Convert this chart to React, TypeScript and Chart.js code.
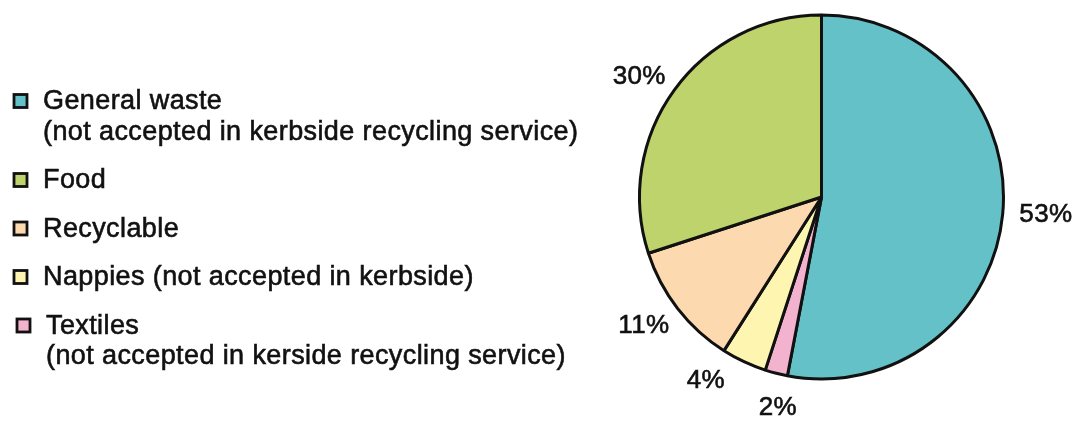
import React, { useEffect, useRef } from "react";
import { Chart, registerables } from "chart.js";

Chart.register(...registerables);

// Data (clockwise from 12 o'clock)
const categories = ["General waste", "Textiles", "Nappies", "Recyclable", "Food"];
const shares = [53, 2, 4, 11, 30];
const sliceColors = ["#63C1C7", "#F3B3CF", "#FEF5B1", "#FDD9AF", "#BED36B"];

// Legend text (legend order: General, Food, Recyclable, Nappies, Textiles)
const legendOrder = [0, 4, 3, 2, 1];
const legendText = [
  ["General waste", "(not accepted in kerbside recycling service)"],
  ["Textiles", "(not accepted in kerside recycling service)"],
  ["Nappies (not accepted in kerbside)"],
  ["Recyclable"],
  ["Food"],
];
const legendIndent = [0, 3, 0, 0, 0];

// percentage label placement tweaks (per slice)
const labelAngleNudge = [-1, -2.6, 7.2, 2, -2.3];
const labelDistance = [43, 32, 34, 37, 37];

const FONT = "'Liberation Sans', Arial, Helvetica, sans-serif";

function boldText(ctx: CanvasRenderingContext2D, t: string, x: number, y: number) {
  ctx.fillText(t, x, y);
  ctx.strokeText(t, x, y);
}

const overlayPlugin = {
  id: "overlay",
  afterDraw(chart: any) {
    const ctx = chart.ctx as CanvasRenderingContext2D;
    const meta = chart.getDatasetMeta(0);
    ctx.save();
    ctx.fillStyle = "#111";
    ctx.strokeStyle = "#111";
    ctx.lineWidth = 0.6;
    (ctx as any).letterSpacing = "0.3px";
    ctx.font = `26px ${FONT}`;
    ctx.textAlign = "center";
    ctx.textBaseline = "middle";
    meta.data.forEach((arc: any, i: number) => {
      const p = arc.getProps(["x", "y", "startAngle", "endAngle", "outerRadius"], true);
      const mid = (p.startAngle + p.endAngle) / 2 + (labelAngleNudge[i] * Math.PI) / 180;
      const r = p.outerRadius + labelDistance[i];
      const x = p.x + Math.cos(mid) * r;
      const y = p.y + Math.sin(mid) * r;
      boldText(ctx, `${shares[i]}%`, x, y + 1);
    });

    // legend
    ctx.textAlign = "left";
    ctx.font = `27px ${FONT}`;
    (ctx as any).letterSpacing = "0.4px";
    let y = 101;
    const bg = chart.data.datasets[0].backgroundColor as string[];
    legendOrder.forEach((idx) => {
      const ind = legendIndent[idx];
      ctx.fillStyle = bg[idx];
      ctx.fillRect(14 + ind, y - 6.5, 13, 13);
      ctx.lineWidth = 2.8;
      ctx.strokeStyle = "#111";
      ctx.strokeRect(14 + ind, y - 6.5, 13, 13);
      ctx.fillStyle = "#111";
      ctx.lineWidth = 0.6;
      const lines = legendText[idx];
      lines.forEach((t, j) => {
        boldText(ctx, t, 43 + ind, y + j * 30.5 + 1);
      });
      y += (lines.length - 1) * 30.5 + 48.5;
    });
    ctx.restore();
  },
};

export default function App() {
  const ref = useRef<HTMLCanvasElement>(null);
  useEffect(() => {
    if (!ref.current) return;
    const chart = new Chart(ref.current, {
      type: "pie",
      data: {
        labels: categories,
        datasets: [
          {
            data: shares,
            backgroundColor: sliceColors,
            borderColor: "#111",
            borderWidth: 3,
          },
        ],
      },
      options: {
        responsive: false,
        animation: false,
        layout: { padding: { left: 638, right: 79, top: 13, bottom: 40 } },
        plugins: {
          legend: { display: false },
          tooltip: { enabled: false },
        },
      },
      plugins: [overlayPlugin],
    });
    return () => chart.destroy();
  }, []);
  return (
    <div style={{ position: "fixed", left: 0, top: 0, width: 1084, height: 421, background: "#fff" }}>
      <canvas ref={ref} width={1084} height={421} />
    </div>
  );
}
